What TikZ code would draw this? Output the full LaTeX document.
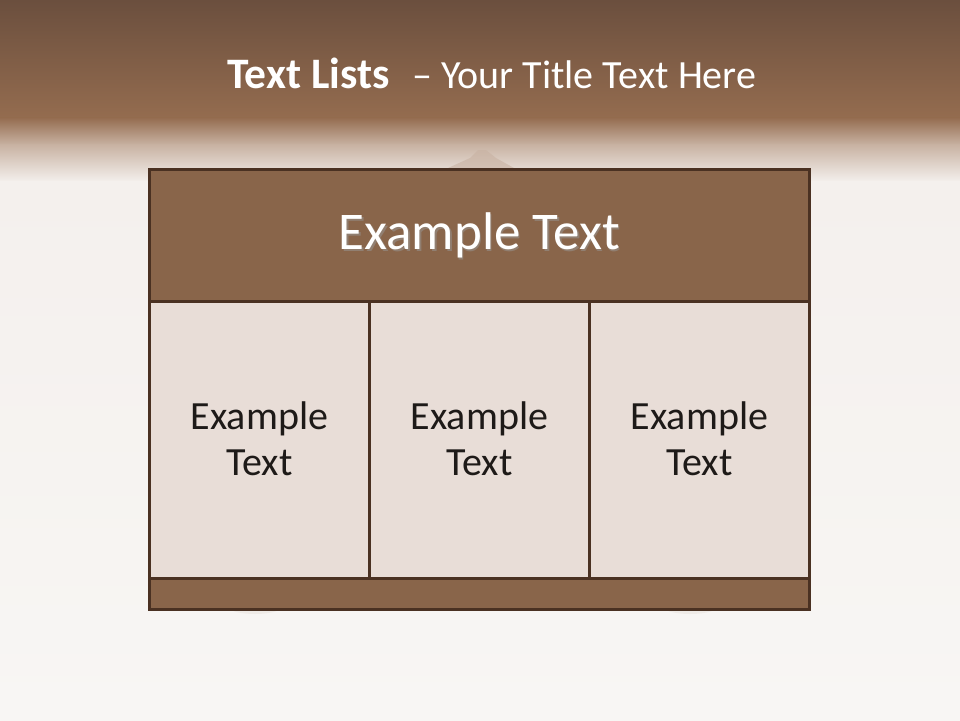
\documentclass[tikz,border=0pt]{standalone}
\usepackage{fontspec}
\setmainfont{Carlito}
\usetikzlibrary{positioning,calc}
\definecolor{bgtop}{HTML}{6B4F3E}
\definecolor{bgmid}{HTML}{946C4F}
\definecolor{bgfade}{HTML}{C8B2A2}
\definecolor{bglight}{HTML}{F4F0ED}
\definecolor{bgwhite}{HTML}{F8F6F4}
\definecolor{frame}{HTML}{4A3122}
\definecolor{headfill}{HTML}{89654A}
\definecolor{cellfill}{HTML}{E8DDD7}
\definecolor{textdark}{HTML}{1E1A18}
\tikzset{
  boxpart/.style={draw=frame, line width=2.9pt},
  headtext/.style={text=white, font=\fontsize{53}{60}\selectfont},
  celltext/.style={text=textdark, font=\fontsize{40}{45.5}\selectfont, align=center},
  titletext/.style={text=white, inner sep=0, anchor=base west},
}
\begin{document}
\begin{tikzpicture}[x=1pt,y=-1pt]
\useasboundingbox (0,0) rectangle (960,720);
% background
\fill[bgwhite] (0,0) rectangle (960,720);
\shade[top color=bgtop, bottom color=bgmid] (0,0) rectangle (960,118);
\shade[top color=bgmid, bottom color=bgfade] (0,117.5) rectangle (960,145);
\shade[top color=bgfade, bottom color=bglight] (0,144.5) rectangle (960,182);
\shade[top color=bglight, bottom color=bgwhite] (0,181.5) rectangle (960,720);
% faint decoration behind box
\fill[bgfade, opacity=0.6] (448,168) -- (470,158) -- (478,150) -- (486,150) -- (496,158) -- (514,168) -- cycle;
\fill[bglight!85!bgfade, opacity=0.7] (255,606) ellipse (28 and 8);
\fill[bglight!85!bgfade, opacity=0.7] (690,606) ellipse (28 and 8);
% title
\node[titletext, font=\fontsize{43.5}{48}\selectfont\bfseries] (titleA) at (227,88) {Text Lists};
\node[titletext, font=\fontsize{40}{48}\selectfont] (titleB) at (412,88) {– Your Title Text Here};
% box
\node[boxpart, fill=headfill, minimum width=660, minimum height=132, inner sep=0, anchor=north west] (head) at (148,168) {};
\node[boxpart, fill=cellfill, minimum width=220, minimum height=277, inner sep=0, anchor=north west] (c1) at (148,300) {};
\node[boxpart, fill=cellfill, minimum width=220, minimum height=277, inner sep=0, anchor=north west] (c2) at (368,300) {};
\node[boxpart, fill=cellfill, minimum width=220, minimum height=277, inner sep=0, anchor=north west] (c3) at (588,300) {};
\node[boxpart, fill=headfill, minimum width=660, minimum height=31, inner sep=0, anchor=north west] (foot) at (148,577) {};
% texts
\node[headtext, text=black!40, opacity=0.5] at ($(head.center)+(1.5,1.5)$) {Example Text};
\node[headtext] (htxt) at (head.center) {Example Text};
\node[celltext] (t1) at ($(c1.center)+(0,-1)$) {Example\\Text};
\node[celltext] (t2) at ($(c2.center)+(0,-1)$) {Example\\Text};
\node[celltext] (t3) at ($(c3.center)+(0,-1)$) {Example\\Text};
\end{tikzpicture}
\end{document}
